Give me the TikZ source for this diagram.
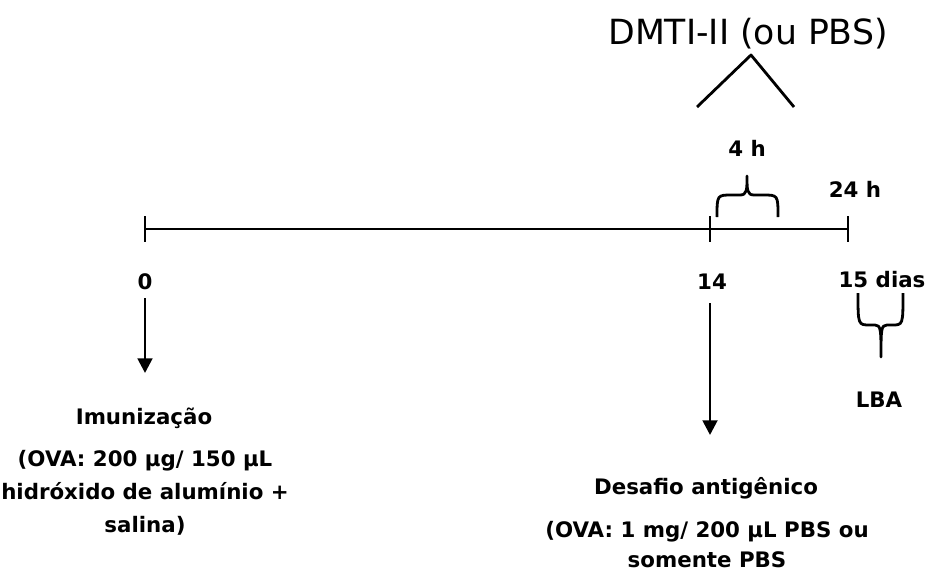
\documentclass[tikz,border=0pt]{standalone}
\usepackage{fontspec}
\setmainfont{DejaVu Sans}
\usetikzlibrary{arrows.meta,positioning}

\begin{document}
\begin{tikzpicture}[
  x=0.75pt, y=-0.75pt,
  lbl/.style={font=\fontsize{16}{24.75}\selectfont\bfseries, inner sep=2pt},
  desc/.style={lbl, align=center},
  arrow/.style={-{Triangle[length=11pt,width=11pt]}, line width=2.1pt},
  tl/.style={line width=2.1pt},
  brk/.style={line width=2.1pt, line join=round}
]
\useasboundingbox (0,0) rectangle (927,574);
% timeline
\coordinate (t0) at (145,229);
\coordinate (t14) at (710,229);
\coordinate (t15) at (848,229);
\draw[tl] (t0) -- (t15);
\foreach \t in {t0,t14,t15} {\draw[tl] ([yshift=9.5pt]\t) -- ([yshift=-9.5pt]\t);}
\node[lbl] (d0) at (145,282) {0};
\node[lbl] (d14) at (712,282) {14};
\node[lbl] (d15) at (882,280) {15 dias};
\node[lbl] (h24) at (855,189) {24 h};
\node[lbl] (h4) at (747,148) {4 h};
\node[font=\fontsize{26}{30}\selectfont] (dmti) at (748,34) {DMTI-II (ou PBS)};
\node[lbl] (lba) at (879,400) {LBA};
% events
\node[lbl] (imun) at (144,418) {Imunização};
\node[desc] (imundet) at (145,493) {(OVA: 200 μg/ 150 μL\\hidróxido de alumínio +\\salina)};
\node[lbl] (desaf) at (706,488) {Desafio antigênico};
\node[desc, inner sep=1pt, font=\fontsize{16}{22.5}\selectfont\bfseries] (desafdet) at (707,545) {(OVA: 1 mg/ 200 μL PBS ou\\somente PBS};
\coordinate (a0) at (145,373);
\coordinate (a14) at (710,435);
\draw[arrow, shorten <=4pt] (d0.south -| a0) -- (a0);
\draw[arrow, shorten <=8pt] (d14.south -| a14) -- (a14);
% brackets
\draw[brk] (697,107) -- (751,55) -- (794,107);
\draw[brk] (717,217) .. controls (717,195) .. (732,195) -- (740,195)
  .. controls (747,195) and (747,190) .. (747,176)
  .. controls (747,190) and (747,195) .. (754,195) -- (763,195)
  .. controls (778,195) .. (778,217);
\draw[brk] (858,293) .. controls (858,325) .. (870,325) -- (875,325)
  .. controls (881,325) and (881,330) .. (881,357)
  .. controls (881,330) and (881,325) .. (887,325) -- (892,325)
  .. controls (903,325) .. (903,293);
\end{tikzpicture}
\end{document}
